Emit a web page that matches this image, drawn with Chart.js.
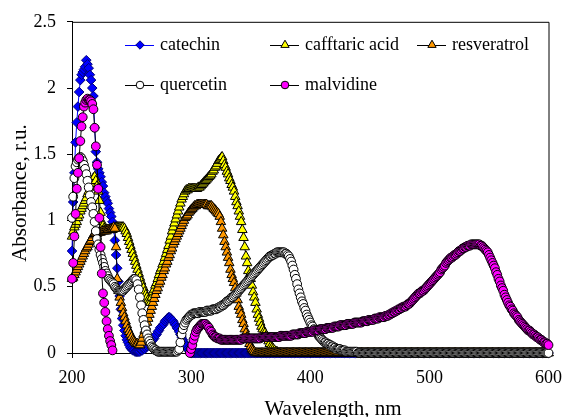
<!DOCTYPE html>
<html><head><meta charset="utf-8">
<script src="https://cdn.jsdelivr.net/npm/chart.js@4.4.0/dist/chart.umd.min.js"></script>
<style>html,body{margin:0;padding:0;background:#fff;}canvas{display:block;}</style>
</head><body>
<canvas id="c" width="571" height="417"></canvas>
<script>
// Wavelength grid (nm), 1 nm steps
const wavelengths = [
200,201,202,203,204,205,206,207,208,209,
210,211,212,213,214,215,216,217,218,219,
220,221,222,223,224,225,226,227,228,229,
230,231,232,233,234,235,236,237,238,239,
240,241,242,243,244,245,246,247,248,249,
250,251,252,253,254,255,256,257,258,259,
260,261,262,263,264,265,266,267,268,269,
270,271,272,273,274,275,276,277,278,279,
280,281,282,283,284,285,286,287,288,289,
290,291,292,293,294,295,296,297,298,299,
300,301,302,303,304,305,306,307,308,309,
310,311,312,313,314,315,316,317,318,319,
320,321,322,323,324,325,326,327,328,329,
330,331,332,333,334,335,336,337,338,339,
340,341,342,343,344,345,346,347,348,349,
350,351,352,353,354,355,356,357,358,359,
360,361,362,363,364,365,366,367,368,369,
370,371,372,373,374,375,376,377,378,379,
380,381,382,383,384,385,386,387,388,389,
390,391,392,393,394,395,396,397,398,399,
400,401,402,403,404,405,406,407,408,409,
410,411,412,413,414,415,416,417,418,419,
420,421,422,423,424,425,426,427,428,429,
430,431,432,433,434,435,436,437,438,439,
440,441,442,443,444,445,446,447,448,449,
450,451,452,453,454,455,456,457,458,459,
460,461,462,463,464,465,466,467,468,469,
470,471,472,473,474,475,476,477,478,479,
480,481,482,483,484,485,486,487,488,489,
490,491,492,493,494,495,496,497,498,499,
500,501,502,503,504,505,506,507,508,509,
510,511,512,513,514,515,516,517,518,519,
520,521,522,523,524,525,526,527,528,529,
530,531,532,533,534,535,536,537,538,539,
540,541,542,543,544,545,546,547,548,549,
550,551,552,553,554,555,556,557,558,559,
560,561,562,563,564,565,566,567,568,569,
570,571,572,573,574,575,576,577,578,579,
580,581,582,583,584,585,586,587,588,589,
590,591,592,593,594,595,596,597,598,599,
600
];

const catechin = [
0.77,1.14,1.36,1.59,1.74,1.86,1.97,2.06,2.10,2.12,
2.14,2.16,2.21,2.18,2.15,2.10,2.06,2.00,1.94,1.70,
1.52,1.44,1.39,1.36,1.33,1.29,1.26,1.21,1.18,1.15,
1.13,1.09,1.06,1.03,0.99,0.94,0.85,0.74,0.64,0.54,
0.43,0.33,0.26,0.21,0.17,0.13,0.10,0.08,0.06,0.04,
0.03,0.02,0.02,0.01,0.01,0.01,0.01,0.01,0.02,0.02,
0.03,0.03,0.04,0.05,0.06,0.07,0.08,0.09,0.10,0.11,
0.13,0.14,0.16,0.17,0.19,0.20,0.21,0.22,0.24,0.25,
0.26,0.27,0.27,0.26,0.25,0.24,0.22,0.21,0.19,0.18,
0.16,0.14,0.12,0.10,0.08,0.07,0.05,0.03,0.02,0.01,
0,0,0,0,0,0,0,0,0,0,
0,0,0,0,0,0,0,0,0,0,
0,0,0,0,0,0,0,0,0,0,
0,0,0,0,0,0,0,0,0,0,
0,0,0,0,0,0,0,0,0,0,
0,0,0,0,0,0,0,0,0,0,
0,0,0,0,0,0,0,0,0,0,
0,0,0,0,0,0,0,0,0,0,
0,0,0,0,0,0,0,0,0,0,
0,0,0,0,0,0,0,0,0,0,
0,0,0,0,0,0,0,0,0,0,
0,0,0,0,0,0,0,0,0,0,
0,0,0,0,0,0,0,0,0,0,
0,0,0,0,0,0,0,0,0,0,
0,0,0,0,0,0,0,0,0,0,
0,0,0,0,0,0,0,0,0,0,
0,0,0,0,0,0,0,0,0,0,
0,0,0,0,0,0,0,0,0,0,
0,0,0,0,0,0,0,0,0,0,
0,0,0,0,0,0,0,0,0,0,
0,0,0,0,0,0,0,0,0,0,
0,0,0,0,0,0,0,0,0,0,
0,0,0,0,0,0,0,0,0,0,
0,0,0,0,0,0,0,0,0,0,
0,0,0,0,0,0,0,0,0,0,
0,0,0,0,0,0,0,0,0,0,
0,0,0,0,0,0,0,0,0,0,
0,0,0,0,0,0,0,0,0,0,
0,0,0,0,0,0,0,0,0,0,
0,0,0,0,0,0,0,0,0,0,
0
];

const cafftaricAcid = [
0.88,0.92,0.95,0.97,0.99,1.02,1.04,1.07,1.09,1.11,
1.13,1.15,1.17,1.20,1.22,1.25,1.27,1.30,1.32,1.33,
1.30,1.26,1.22,1.15,1.06,0.99,0.96,0.94,0.93,0.93,
0.93,0.93,0.93,0.93,0.93,0.94,0.94,0.95,0.95,0.95,
0.95,0.95,0.95,0.95,0.94,0.92,0.90,0.87,0.84,0.81,
0.78,0.75,0.72,0.69,0.66,0.63,0.60,0.57,0.54,0.51,
0.49,0.46,0.44,0.42,0.40,0.39,0.38,0.42,0.46,0.48,
0.51,0.53,0.56,0.59,0.62,0.64,0.67,0.69,0.72,0.75,
0.78,0.81,0.85,0.88,0.92,0.95,0.98,1.01,1.04,1.07,
1.10,1.13,1.16,1.18,1.20,1.22,1.23,1.23,1.24,1.24,
1.24,1.24,1.24,1.24,1.24,1.24,1.25,1.25,1.26,1.27,
1.28,1.29,1.30,1.31,1.32,1.33,1.34,1.35,1.37,1.38,
1.40,1.41,1.43,1.45,1.46,1.47,1.48,1.45,1.42,1.40,
1.37,1.35,1.32,1.30,1.27,1.25,1.22,1.18,1.14,1.11,
1.07,1.03,0.99,0.93,0.87,0.80,0.73,0.68,0.62,0.59,
0.56,0.51,0.46,0.42,0.38,0.33,0.29,0.26,0.23,0.20,
0.18,0.16,0.15,0.13,0.11,0.09,0.07,0.05,0.04,0.03,
0.02,0.01,0.01,0,0,0,0,0,0,0,
0,0,0,0,0,0,0,0,0,0,
0,0,0,0,0,0,0,0,0,0,
0,0,0,0,0,0,0,0,0,0,
0,0,0,0,0,0,0,0,0,0,
0,0,0,0,0,0,0,0,0,0,
0,0,0,0,0,0,0,0,0,0,
0,0,0,0,0,0,0,0,0,0,
0,0,0,0,0,0,0,0,0,0,
0,0,0,0,0,0,0,0,0,0,
0,0,0,0,0,0,0,0,0,0,
0,0,0,0,0,0,0,0,0,0,
0,0,0,0,0,0,0,0,0,0,
0,0,0,0,0,0,0,0,0,0,
0,0,0,0,0,0,0,0,0,0,
0,0,0,0,0,0,0,0,0,0,
0,0,0,0,0,0,0,0,0,0,
0,0,0,0,0,0,0,0,0,0,
0,0,0,0,0,0,0,0,0,0,
0,0,0,0,0,0,0,0,0,0,
0,0,0,0,0,0,0,0,0,0,
0,0,0,0,0,0,0,0,0,0,
0,0,0,0,0,0,0,0,0,0,
0
];

const resveratrol = [
0.56,0.57,0.59,0.61,0.63,0.65,0.67,0.69,0.71,0.73,
0.75,0.77,0.79,0.80,0.82,0.84,0.85,0.87,0.89,0.90,
0.90,0.90,0.91,0.91,0.91,0.92,0.92,0.92,0.92,0.92,
0.93,0.93,0.93,0.94,0.94,0.95,0.94,0.80,0.56,0.47,
0.42,0.38,0.34,0.30,0.27,0.24,0.21,0.18,0.16,0.14,
0.12,0.10,0.09,0.08,0.07,0.07,0.06,0.06,0.08,0.11,
0.14,0.17,0.20,0.23,0.26,0.29,0.32,0.35,0.38,0.41,
0.44,0.47,0.49,0.52,0.54,0.57,0.59,0.62,0.64,0.67,
0.69,0.72,0.74,0.77,0.79,0.82,0.84,0.86,0.88,0.90,
0.92,0.94,0.96,0.98,1.00,1.02,1.03,1.04,1.06,1.07,
1.08,1.09,1.10,1.11,1.11,1.12,1.12,1.12,1.12,1.12,
1.12,1.12,1.12,1.12,1.11,1.11,1.11,1.11,1.10,1.09,
1.08,1.07,1.06,1.05,1.03,0.99,0.94,0.89,0.84,0.80,
0.76,0.72,0.68,0.63,0.59,0.56,0.53,0.49,0.45,0.40,
0.35,0.32,0.29,0.25,0.22,0.18,0.15,0.12,0.10,0.07,
0.05,0.03,0.02,0.01,0,0,0,0,0,0,
0,0,0,0,0,0,0,0,0,0,
0,0,0,0,0,0,0,0,0,0,
0,0,0,0,0,0,0,0,0,0,
0,0,0,0,0,0,0,0,0,0,
0,0,0,0,0,0,0,0,0,0,
0,0,0,0,0,0,0,0,0,0,
0,0,0,0,0,0,0,0,0,0,
0,0,0,0,0,0,0,0,0,0,
0,0,0,0,0,0,0,0,0,0,
0,0,0,0,0,0,0,0,0,0,
0,0,0,0,0,0,0,0,0,0,
0,0,0,0,0,0,0,0,0,0,
0,0,0,0,0,0,0,0,0,0,
0,0,0,0,0,0,0,0,0,0,
0,0,0,0,0,0,0,0,0,0,
0,0,0,0,0,0,0,0,0,0,
0,0,0,0,0,0,0,0,0,0,
0,0,0,0,0,0,0,0,0,0,
0,0,0,0,0,0,0,0,0,0,
0,0,0,0,0,0,0,0,0,0,
0,0,0,0,0,0,0,0,0,0,
0,0,0,0,0,0,0,0,0,0,
0,0,0,0,0,0,0,0,0,0,
0,0,0,0,0,0,0,0,0,0,
0
];

const quercetin = [
1.02,1.18,1.32,1.41,1.44,1.46,1.47,1.48,1.47,1.45,
1.42,1.39,1.35,1.30,1.25,1.19,1.14,1.10,1.05,0.99,
0.92,0.86,0.82,0.78,0.74,0.71,0.68,0.65,0.62,0.60,
0.58,0.56,0.55,0.54,0.53,0.52,0.50,0.49,0.48,0.47,
0.47,0.47,0.47,0.47,0.48,0.49,0.50,0.51,0.52,0.53,
0.54,0.55,0.56,0.56,0.55,0.52,0.48,0.42,0.36,0.30,
0.25,0.21,0.17,0.14,0.11,0.09,0.07,0.05,0.04,0.03,
0.02,0.02,0.01,0.01,0.01,0.01,0.01,0.01,0.01,0.01,
0.01,0.01,0.01,0.01,0.01,0.01,0.01,0.01,0.01,0.02,
0.03,0.08,0.14,0.18,0.21,0.23,0.25,0.26,0.27,0.28,
0.29,0.29,0.30,0.30,0.30,0.30,0.30,0.31,0.31,0.31,
0.31,0.31,0.31,0.32,0.32,0.32,0.32,0.32,0.33,0.33,
0.33,0.33,0.34,0.34,0.35,0.35,0.36,0.36,0.37,0.38,
0.39,0.39,0.40,0.41,0.42,0.42,0.43,0.44,0.45,0.46,
0.47,0.48,0.49,0.50,0.51,0.52,0.53,0.54,0.55,0.56,
0.57,0.58,0.59,0.60,0.61,0.62,0.63,0.64,0.65,0.66,
0.67,0.68,0.69,0.70,0.71,0.72,0.73,0.73,0.74,0.74,
0.75,0.75,0.76,0.76,0.76,0.76,0.76,0.76,0.76,0.75,
0.75,0.74,0.73,0.71,0.69,0.66,0.63,0.59,0.56,0.52,
0.48,0.45,0.42,0.39,0.37,0.34,0.32,0.29,0.27,0.25,
0.23,0.21,0.20,0.18,0.17,0.16,0.15,0.13,0.12,0.11,
0.10,0.09,0.08,0.08,0.07,0.07,0.06,0.06,0.05,0.05,
0.04,0.04,0.03,0.03,0.03,0.03,0.02,0.02,0.02,0.02,
0.01,0.01,0.01,0.01,0.01,0.01,0.01,0.01,0.01,0.01,
0,0,0,0,0,0,0,0,0,0,
0,0,0,0,0,0,0,0,0,0,
0,0,0,0,0,0,0,0,0,0,
0,0,0,0,0,0,0,0,0,0,
0,0,0,0,0,0,0,0,0,0,
0,0,0,0,0,0,0,0,0,0,
0,0,0,0,0,0,0,0,0,0,
0,0,0,0,0,0,0,0,0,0,
0,0,0,0,0,0,0,0,0,0,
0,0,0,0,0,0,0,0,0,0,
0,0,0,0,0,0,0,0,0,0,
0,0,0,0,0,0,0,0,0,0,
0,0,0,0,0,0,0,0,0,0,
0,0,0,0,0,0,0,0,0,0,
0,0,0,0,0,0,0,0,0,0,
0,0,0,0,0,0,0,0,0,0,
0
];

const malvidine = [
0.56,0.68,0.88,1.05,1.24,1.36,1.47,1.60,1.71,1.78,
1.86,1.89,1.91,1.92,1.91,1.91,1.90,1.88,1.84,1.70,
1.56,1.42,1.24,1.02,0.80,0.60,0.45,0.38,0.31,0.24,
0.18,0.13,0.09,0.06,0.02,null,null,null,null,null,
null,null,null,null,null,null,null,null,null,null,
null,null,null,null,null,null,null,null,null,null,
null,null,null,null,null,null,null,null,null,null,
null,null,null,null,null,null,null,null,null,null,
null,null,null,null,null,null,null,null,null,null,
null,null,null,null,null,null,null,null,null,0.00,
0.03,0.06,0.10,0.13,0.16,0.18,0.19,0.20,0.21,0.22,
0.22,0.22,0.22,0.21,0.20,0.19,0.17,0.16,0.14,0.13,
0.12,0.12,0.11,0.11,0.11,0.10,0.10,0.10,0.10,0.10,
0.10,0.10,0.10,0.10,0.10,0.10,0.10,0.10,0.10,0.10,
0.10,0.10,0.10,0.11,0.11,0.11,0.11,0.11,0.11,0.11,
0.11,0.11,0.11,0.11,0.11,0.11,0.11,0.11,0.11,0.12,
0.12,0.12,0.12,0.12,0.12,0.12,0.12,0.12,0.12,0.12,
0.12,0.12,0.12,0.12,0.12,0.13,0.13,0.13,0.13,0.13,
0.13,0.13,0.13,0.13,0.13,0.14,0.14,0.14,0.14,0.14,
0.14,0.15,0.15,0.15,0.15,0.15,0.15,0.16,0.16,0.16,
0.16,0.16,0.16,0.17,0.17,0.17,0.17,0.17,0.18,0.18,
0.18,0.18,0.18,0.18,0.19,0.19,0.19,0.19,0.19,0.19,
0.20,0.20,0.20,0.20,0.20,0.21,0.21,0.21,0.21,0.21,
0.21,0.22,0.22,0.22,0.22,0.22,0.22,0.23,0.23,0.23,
0.23,0.23,0.23,0.23,0.24,0.24,0.24,0.24,0.24,0.25,
0.25,0.25,0.25,0.25,0.26,0.26,0.26,0.26,0.27,0.27,
0.27,0.27,0.27,0.28,0.28,0.28,0.29,0.29,0.30,0.30,
0.31,0.31,0.32,0.32,0.33,0.33,0.34,0.34,0.35,0.35,
0.35,0.36,0.37,0.37,0.38,0.39,0.40,0.41,0.42,0.43,
0.44,0.45,0.45,0.46,0.47,0.47,0.48,0.49,0.50,0.51,
0.52,0.53,0.54,0.55,0.56,0.57,0.58,0.59,0.60,0.61,
0.63,0.64,0.65,0.66,0.68,0.69,0.70,0.71,0.72,0.72,
0.73,0.74,0.74,0.75,0.76,0.77,0.77,0.78,0.79,0.79,
0.80,0.80,0.81,0.81,0.81,0.82,0.82,0.82,0.82,0.82,
0.82,0.82,0.82,0.81,0.81,0.80,0.79,0.78,0.77,0.76,
0.74,0.72,0.70,0.68,0.66,0.64,0.61,0.59,0.56,0.54,
0.51,0.49,0.47,0.44,0.42,0.40,0.38,0.36,0.35,0.33,
0.32,0.30,0.29,0.28,0.27,0.25,0.24,0.23,0.22,0.21,
0.20,0.19,0.18,0.17,0.17,0.16,0.15,0.14,0.14,0.13,
0.12,0.12,0.11,0.10,0.10,0.09,0.08,0.08,0.07,0.07,
0.06
];

const seriesNames = ['catechin', 'cafftaric acid', 'resveratrol', 'quercetin', 'malvidine'];
const xTickLabels = ['200', '300', '400', '500', '600'];
const yTickLabels = ['0', '0.5', '1', '1.5', '2', '2.5'];
const xTitle = 'Wavelength, nm';
const yTitle = 'Absorbance, r.u.';

const seriesValues = [catechin, cafftaricAcid, resveratrol, quercetin, malvidine];
const styles = [
  {line:'#0000ff', fill:'#0000ff', edge:'#00007a', shape:'rectRot', r:4.8, lr:4.2, order:5},
  {line:'#000000', fill:'#ffff00', edge:'#000000', shape:'triangle', r:5.5, lr:4.8, order:4},
  {line:'#000000', fill:'#ff9900', edge:'#000000', shape:'triangle', r:5.5, lr:4.8, order:3},
  {line:'#000000', fill:'#ffffff', edge:'#000000', shape:'circle', r:4.4, lr:3.8, order:2},
  {line:'#000000', fill:'#ff00ff', edge:'#000000', shape:'circle', r:4.4, lr:3.8, order:1}
];

const datasets = seriesNames.map((name, k) => ({
  label: name,
  data: wavelengths.map((w, i) => ({x: w, y: seriesValues[k][i]})),
  borderColor: styles[k].line,
  borderWidth: 1,
  pointStyle: styles[k].shape,
  pointRadius: styles[k].r,
  pointHoverRadius: styles[k].r,
  pointBackgroundColor: styles[k].fill,
  pointBorderColor: styles[k].edge,
  pointBorderWidth: 1,
  tension: 0,
  spanGaps: false,
  fill: false,
  clip: false,
  order: styles[k].order
}));

const SERIF = "'Liberation Serif', 'Times New Roman', serif";
const legendSlots = [{x:125,y:45},{x:270,y:45},{x:417,y:45},{x:125,y:85},{x:270,y:85}];

const decorPlugin = {
  id: 'decor',
  beforeDatasetsDraw(chart) {
    const {ctx, chartArea:a} = chart;
    ctx.save();
    ctx.strokeStyle = '#000';
    ctx.lineWidth = 1;
    ctx.beginPath();
    ctx.moveTo(a.left, a.top + 0.5);
    ctx.lineTo(a.right + 0.5, a.top + 0.5);
    ctx.lineTo(a.right + 0.5, a.bottom);
    ctx.stroke();
    ctx.restore();
  },
  afterDraw(chart) {
    const {ctx} = chart;
    ctx.save();
    ctx.font = '18px ' + SERIF;
    ctx.textBaseline = 'middle';
    ctx.textAlign = 'left';
    seriesNames.forEach((name, k) => {
      const s = legendSlots[k], st = styles[k];
      ctx.strokeStyle = st.line;
      ctx.lineWidth = 1;
      ctx.beginPath();
      ctx.moveTo(s.x, s.y + 0.5);
      ctx.lineTo(s.x + 29, s.y + 0.5);
      ctx.stroke();
      ctx.fillStyle = st.fill;
      ctx.strokeStyle = st.edge;
      Chart.helpers.drawPoint(ctx, {pointStyle: st.shape, radius: st.lr, rotation: 0, borderWidth: 1}, s.x + 15, s.y);
      ctx.fillStyle = '#000';
      ctx.fillText(name, s.x + 35, s.y);
    });
    ctx.font = '21px ' + SERIF;
    ctx.fillStyle = '#000';
    ctx.textAlign = 'center';
    ctx.textBaseline = 'alphabetic';
    ctx.fillText(xTitle, 333, 415);
    ctx.translate(26, 193);
    ctx.rotate(-Math.PI / 2);
    ctx.fillText(yTitle, 0, 0);
    ctx.restore();
  }
};

new Chart(document.getElementById('c'), {
  type: 'line',
  data: {datasets},
  options: {
    responsive: false,
    animation: false,
    devicePixelRatio: 1,
    events: [],
    layout: {padding: {top: 18, right: 18, left: 0, bottom: 0}},
    plugins: {legend: {display: false}, tooltip: {enabled: false}},
    scales: {
      x: {
        type: 'linear', min: 200, max: 600,
        afterFit(s) { s.height = 64; },
        ticks: {stepSize: 100, autoSkip: false, maxRotation: 0, padding: 9, color: '#000',
          font: {family: SERIF, size: 18},
          callback: (v, i) => xTickLabels[i]},
        grid: {display: true, drawOnChartArea: false, drawTicks: true, tickLength: 5, color: '#000'},
        border: {display: true, color: '#000', width: 1}
      },
      y: {
        type: 'linear', min: 0, max: 2.5,
        afterFit(s) { s.width = 72; },
        ticks: {stepSize: 0.5, padding: 11, color: '#000',
          font: {family: SERIF, size: 18},
          callback: (v, i) => yTickLabels[i]},
        grid: {display: true, drawOnChartArea: false, drawTicks: true, tickLength: 5, color: '#000'},
        border: {display: true, color: '#000', width: 1}
      }
    }
  },
  plugins: [decorPlugin]
});
</script>
</body></html>
